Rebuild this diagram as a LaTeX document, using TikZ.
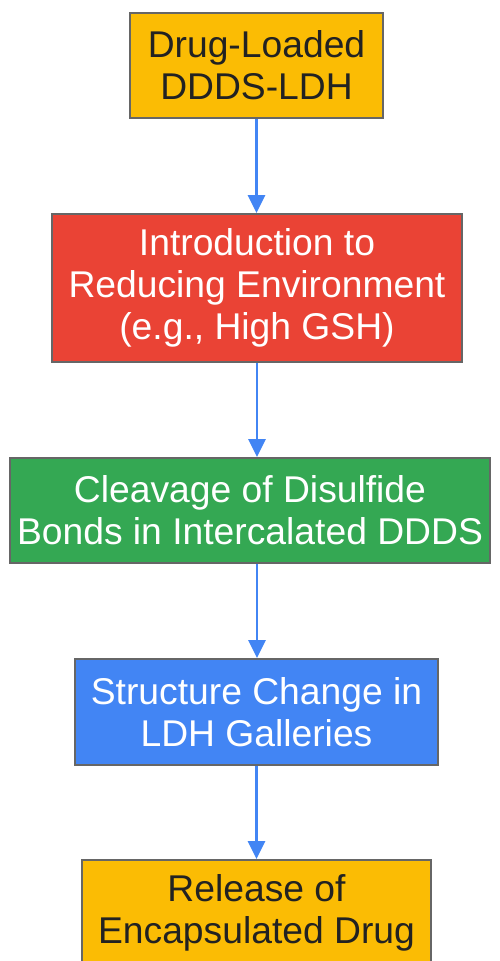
\documentclass[tikz,border=0pt]{standalone}
\usepackage{fontspec}
\setmainfont{Liberation Sans}
\usepackage{xcolor}
\usetikzlibrary{
  arrows.meta,
  positioning
}
\definecolor{gyellow}{HTML}{FBBC04}
\definecolor{gred}{HTML}{EA4335}
\definecolor{ggreen}{HTML}{34A853}
\definecolor{gblue}{HTML}{4285F4}
\definecolor{edgegray}{HTML}{666666}
\definecolor{inkdark}{HTML}{222222}

\tikzset{
  stagebox/.style={draw=edgegray, line width=1.1pt, inner sep=0pt, align=center,
    font=\fontsize{21.2}{24}\selectfont},
  flowarrow/.style={draw=gblue, line width=1.5pt,
    -{Triangle[length=0.36cm, width=0.34cm]}}
}

\begin{document}
\begin{tikzpicture}
        \useasboundingbox (0,0) rectangle (10,-19.22);
        \node[stagebox, fill=gyellow, text=inkdark, minimum width=5.06cm, minimum height=2.1cm]
            (loaded) at (5.13,-1.31) {Drug-Loaded\\DDDS-LDH};
        \node[stagebox, fill=gred, text=white, minimum width=8.2cm, minimum height=2.96cm]
            (reducing) at (5.14,-5.76) {Introduction to\\Reducing Environment\\(e.g., High GSH)};
        \node[stagebox, fill=ggreen, text=white, minimum width=9.6cm, minimum height=2.1cm]
            (cleavage) at (5.0,-10.21) {Cleavage of Disulfide\\Bonds in Intercalated DDDS};
        \node[stagebox, fill=gblue, text=white, minimum width=7.26cm, minimum height=2.12cm]
            (galleries) at (5.13,-14.24) {Structure Change in\\LDH Galleries};
        \node[stagebox, fill=gyellow, text=inkdark, minimum width=6.98cm, minimum height=2.1cm]
            (release) at (5.13,-18.25) {Release of\\Encapsulated Drug};
        \draw[flowarrow] (loaded.south) -- (loaded.south |- reducing.north);
        \draw[flowarrow] (reducing.south) -- (reducing.south |- cleavage.north);
        \draw[flowarrow] (reducing.south |- cleavage.south) -- (reducing.south |- galleries.north);
        \draw[flowarrow] (galleries.south) -- (galleries.south |- release.north);
\end{tikzpicture}
\end{document}
